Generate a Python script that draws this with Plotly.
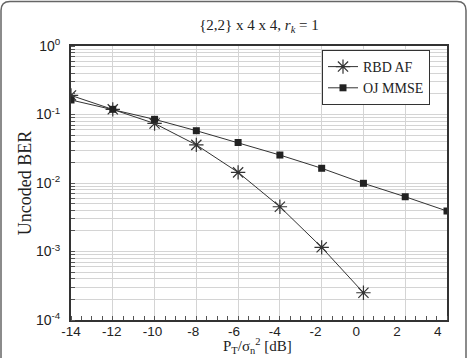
import plotly.graph_objects as go

# Data
snr_db = [-14, -11.95, -9.9, -7.85, -5.8, -3.75, -1.7, 0.35, 2.4, 4.45]
ber_rbd_af = [0.19, 0.119, 0.074, 0.036, 0.0143, 0.0045, 0.00115, 0.00025]
ber_oj_mmse = [0.163, 0.119, 0.085, 0.058, 0.039, 0.0256, 0.0164, 0.0099, 0.0063, 0.0039]
x_tick_vals = [-14, -12, -10, -8, -6, -4, -2, 0, 2, 4]
y_tick_vals = [1e-4, 1e-3, 1e-2, 1e-1, 1]
y_tick_text = ["10<sup>-4</sup>", "10<sup>-3</sup>", "10<sup>-2</sup>", "10<sup>-1</sup>", "10<sup>0</sup>"]

W, H = 468, 358
L, R, T, B = 71, 21, 46, 38
PW, PH = W - L - R, H - T - B

def px(x):
    return (x - L) / PW

def py(y):
    return (H - B - y) / PH

serif = "Liberation Serif, Times New Roman, serif"
sans = "Liberation Sans, Arial, sans-serif"
ink = "#222222"
gridc = "#d4d4d4"

fig = go.Figure()
fig.add_trace(go.Scatter(
    x=snr_db[:len(ber_rbd_af)], y=ber_rbd_af, name="RBD AF", mode="lines+markers",
    line=dict(color="#333333", width=1),
    marker=dict(symbol="asterisk-open", size=12, line=dict(color=ink, width=1.2)),
))
fig.add_trace(go.Scatter(
    x=snr_db[:len(ber_oj_mmse)], y=ber_oj_mmse, name="OJ MMSE", mode="lines+markers",
    line=dict(color="#333333", width=1),
    marker=dict(symbol="square", size=7, color=ink),
))
fig.add_trace(go.Scatter(x=[], y=[], xaxis="x2", yaxis="y", showlegend=False, hoverinfo="skip"))

xr = [snr_db[0], snr_db[-1]]
fig.update_layout(
    width=W, height=H,
    margin=dict(l=L, r=R, t=T, b=B),
    paper_bgcolor="white", plot_bgcolor="white",
    title=dict(text="{2,2} x 4 x 4, <i>r<sub>k</sub></i> = 1", x=(L + PW / 2) / W, xanchor="center",
               y=1 - 25 / H, yanchor="middle", font=dict(family=serif, size=15, color=ink)),
    xaxis=dict(
        range=xr, tickmode="array", tickvals=snr_db, showticklabels=False, ticks="",
        showgrid=True, gridcolor=gridc, gridwidth=1, zeroline=False, automargin=False,
        showline=True, linecolor="#333333", linewidth=2, mirror=True,
        minor=dict(tickmode="linear", tick0=snr_db[0], dtick=(snr_db[1] - snr_db[0]) / 4,
                   ticks="inside", ticklen=4, tickcolor="#555555", showgrid=False),
    ),
    xaxis2=dict(
        range=xr, overlaying="x", anchor="y", side="bottom", tickmode="array", tickvals=x_tick_vals,
        ticktext=[str(v) for v in x_tick_vals], showgrid=False, zeroline=False, ticks="",
        ticklabelstandoff=1, automargin=False,
        tickfont=dict(family=sans, size=13.5, color=ink),
    ),
    yaxis=dict(
        type="log", range=[-4, 0], tickmode="array", tickvals=y_tick_vals, ticktext=y_tick_text,
        tickfont=dict(family=sans, size=14, color=ink), ticks="", ticklabelstandoff=6,
        showgrid=True, gridcolor=gridc, gridwidth=1, zeroline=False, automargin=False,
        showline=True, linecolor="#333333", linewidth=2, mirror=True,
        minor=dict(dtick="D1", showgrid=True, gridcolor=gridc, gridwidth=1,
                   ticks="inside", ticklen=4, tickcolor="#555555"),
        title=dict(text="Uncoded BER", standoff=0, font=dict(family=serif, size=18, color=ink)),
    ),
    legend=dict(x=px(322), y=py(50), xanchor="left", yanchor="top",
                bgcolor="white", bordercolor="#333333", borderwidth=1,
                font=dict(family=serif, size=14, color=ink), tracegroupgap=0),
    showlegend=True,
)

# x-axis title
fig.add_annotation(text="P<sub>T</sub>/σ<sub>n</sub><sup>2</sup> [dB]", xref="paper", yref="paper",
                   x=px(257), y=py(358), xanchor="center", yanchor="bottom", showarrow=False,
                   font=dict(family=serif, size=15, color=ink))

# rounded outer frame of the figure
x0, x1, y0, y1, rr = 1, 466, 1.5, 360, 9
path = (f"M {px(x0)} {py(y1)} L {px(x0)} {py(y0 + rr)} "
        f"Q {px(x0)} {py(y0)} {px(x0 + rr)} {py(y0)} L {px(x1 - rr)} {py(y0)} "
        f"Q {px(x1)} {py(y0)} {px(x1)} {py(y0 + rr)} L {px(x1)} {py(y1)}")
fig.add_shape(type="path", path=path, xref="paper", yref="paper",
              line=dict(color="#666666", width=1.5))

fig.write_html("out.html")
